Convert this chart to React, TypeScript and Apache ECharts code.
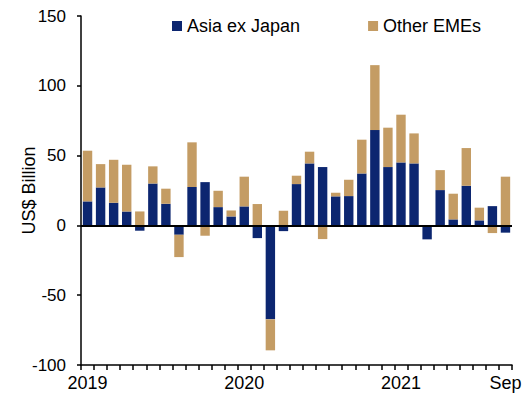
import React, { useEffect, useRef } from "react";
import * as echarts from "echarts";

const categories: string[] = [
  "2019-01", "2019-02", "2019-03", "2019-04", "2019-05", "2019-06",
  "2019-07", "2019-08", "2019-09", "2019-10", "2019-11", "2019-12",
  "2020-01", "2020-02", "2020-03", "2020-04", "2020-05", "2020-06",
  "2020-07", "2020-08", "2020-09", "2020-10", "2020-11", "2020-12",
  "2021-01", "2021-02", "2021-03", "2021-04", "2021-05", "2021-06",
  "2021-07", "2021-08", "2021-09",
];

const asiaExJapan: number[] = [
  17.2, 27.2, 16.2, 10, -3.8, 30, 15.5, -6.7, 27.5, 31, 13.1, 6.4,
  13.6, -9.1, -67.3, -4.1, 29.6, 44.4, 41.8, 20.8, 21, 37.2, 68.3, 41.8,
  45.1, 44.4, -10, 25.3, 4.3, 28.4, 3.6, 13.8, -5.2,
];

const otherEMEs: number[] = [
  36.3, 16.7, 30.8, 33.5, 10, 12.3, 10.8, -16, 32, -7.4, 11.7, 4.3,
  21.3, 15.3, -22.2, 10.5, 6, 8.4, -9.8, 2.6, 11.7, 24.2, 46.5, 28.2,
  34.2, 21.5, 0, 14.3, 18.4, 27, 9.1, -5.5, 34.9,
];

const xTickLabels: { [k: number]: string } = { 0: "2019", 12: "2020", 24: "2021", 32: "Sep" };
const yTicks = { min: -100, max: 150, interval: 50 };

const NAVY = "#0c2670";
const TAN = "#c49c64";
const FONT = "Liberation Sans, Arial, sans-serif";

export default function App() {
  const ref = useRef<HTMLDivElement>(null);
  useEffect(() => {
    if (!ref.current) return;
    const chart = echarts.init(ref.current, undefined, { renderer: "svg" });
    chart.setOption({
      animation: false,
      backgroundColor: "#fff",
      textStyle: { fontFamily: FONT },
      legend: {
        left: 167,
        top: 12,
        itemWidth: 10,
        itemHeight: 10,
        itemGap: 68,
        icon: "rect",
        textStyle: { fontSize: 18, color: "#000", fontFamily: FONT },
        data: ["Asia ex Japan", "Other EMEs"],
      },
      grid: { left: 81, right: 18, top: 16, bottom: 36, containLabel: false },
      xAxis: {
        type: "category",
        data: categories,
        boundaryGap: true,
        axisLine: { onZero: false, lineStyle: { color: "#000", width: 1.5 } },
        axisTick: { show: true, interval: 0, length: 5, lineStyle: { color: "#000", width: 1.5 } },
        axisLabel: {
          interval: (i: number) => xTickLabels[i] !== undefined,
          formatter: (_v: string, i: number) => xTickLabels[i] ?? "",
          fontSize: 18,
          color: "#000",
          margin: 9,
          fontFamily: FONT,
          showMaxLabel: true,
        },
        splitLine: { show: false },
      },
      yAxis: {
        type: "value",
        min: yTicks.min,
        max: yTicks.max,
        interval: yTicks.interval,
        name: "US$ Billion",
        nameLocation: "middle",
        nameGap: 52,
        nameMoveOverlap: false,
        nameRotate: 90,
        nameTextStyle: { fontSize: 18, color: "#000", fontFamily: FONT, verticalAlign: "middle" },
        axisLine: { show: true, lineStyle: { color: "#000", width: 1.5 } },
        axisTick: { show: true, length: 4, lineStyle: { color: "#000", width: 1.5 } },
        axisLabel: { fontSize: 17, color: "#000", margin: 15, fontFamily: FONT },
        splitLine: { show: false },
      },
      series: [
        {
          name: "Asia ex Japan",
          type: "bar",
          stack: "total",
          data: asiaExJapan,
          barCategoryGap: "28%",
          itemStyle: { color: NAVY },
          markLine: {
            silent: true,
            symbol: "none",
            label: { show: false },
            lineStyle: { color: "#000", width: 2, type: "solid" },
            data: [{ yAxis: 0 }],
          },
        },
        {
          name: "Other EMEs",
          type: "bar",
          stack: "total",
          data: otherEMEs,
          barCategoryGap: "28%",
          itemStyle: { color: TAN },
        },
      ],
    });
    return () => chart.dispose();
  }, []);
  return <div ref={ref} style={{ width: 530, height: 401, marginLeft: -8, marginTop: -8 }} />;
}
